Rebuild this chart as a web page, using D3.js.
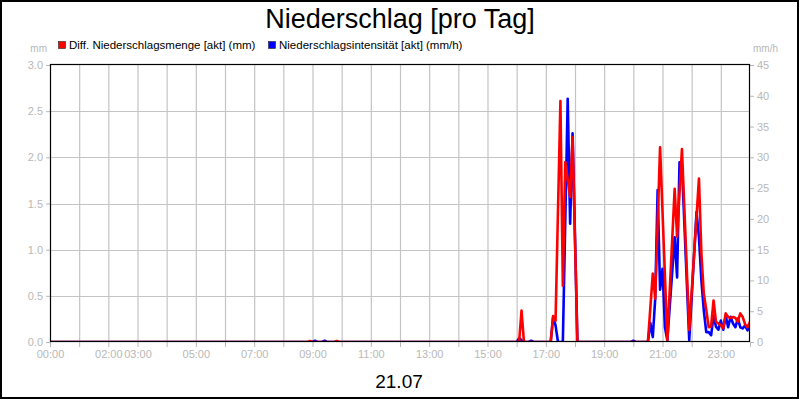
<!DOCTYPE html>
<html><head><meta charset="utf-8">
<script src="https://cdn.jsdelivr.net/npm/d3@7"></script>
<style>
body{margin:0;background:#fff}
svg{display:block}
text{font-family:"Liberation Sans",Arial,sans-serif}
</style>
</head><body><svg id="c" width="800" height="400"></svg>
<script>
const chartTitle = "Niederschlag [pro Tag]";
const dateLabel = "21.07";
const seriesNames = ["Diff. Niederschlagsmenge [akt] (mm)", "Niederschlagsintensität [akt] (mm/h)"];
const seriesColors = ["#ff0000", "#0000ff"];
const leftUnit = "mm";
const rightUnit = "mm/h";
const xTickLabels = ["00:00","02:00","03:00","05:00","07:00","09:00","11:00","13:00","15:00","17:00","19:00","21:00","23:00"];
const leftTicks = [0, 0.5, 1.0, 1.5, 2.0, 2.5, 3.0];
const rightTicks = [0, 5, 10, 15, 20, 25, 30, 35, 40, 45];

const amountTimes = ["00:00","08:50","08:55","09:00","09:45","09:50","09:55","16:05","16:10","16:15",
  "17:10","17:15","17:20","17:30","17:35","17:40","17:50","17:55","18:05",
  "20:30","20:40","20:45","20:55","21:10","21:25","21:30","21:40","21:55",
  "22:15","22:20","22:25","22:30","22:35","22:40","22:45","22:50","22:55","23:00","23:05",
  "23:10","23:15","23:20","23:25","23:30","23:35","23:40","23:45","23:50","23:55","24:00"];
const amountValues = [0,0,0.01,0,0,0.01,0,0,0.34,0,
  0,0.28,0.23,2.61,0.61,1.95,1.57,2.22,0,
  0,0.74,0.47,2.11,0.02,1.66,1.14,2.09,0.13,
  1.77,0.96,0.52,0.35,0.16,0.17,0.45,0.22,0.2,0.18,0.15,
  0.31,0.27,0.26,0.27,0.26,0.22,0.31,0.27,0.19,0.16,0.22];

const intensityTimes = ["00:00","09:00","09:05","09:10","09:20","09:25","09:30",
  "16:00","16:05","16:10","16:15","16:25","16:30","16:35",
  "17:10","17:15","17:20","17:25","17:35","17:45","17:50","17:55","18:05",
  "19:55","20:00","20:05",
  "20:30","20:35","20:40","20:45","20:50","20:55","21:00","21:05","21:10",
  "21:25","21:30","21:35","21:40","21:55",
  "22:10","22:15","22:20","22:25","22:30","22:35","22:40","22:45","22:50","22:55","23:00","23:05",
  "23:10","23:15","23:20","23:25","23:30","23:35","23:40","23:45","23:50","23:55","24:00"];
const intensityValues = [0,0,0.2,0,0,0.2,0,
  0,0.6,0.3,0,0,0.2,0,
  0,4.1,2.7,0,0,39.5,19.2,33.9,0,
  0,0.2,0,
  0,3.1,0.8,7.0,24.7,8.5,11.9,2.4,0.3,
  17,10.5,29.2,28.7,0.3,
  21.1,17,10,5.1,1.6,1.6,1.1,4.3,2.5,2.0,3.5,2.0,
  4.3,2.4,4.1,3.0,2.4,3.8,2.4,2.2,2.7,1.9,3.0];

const toMin = s => { const [h, m] = s.split(":").map(Number); return h * 60 + m; };

const svg = d3.select("#c");
const L = 50, R = 750, T = 65, B = 342;
const x = d3.scaleLinear().domain([0, 1440]).range([L, R]);
const yL = d3.scaleLinear().domain([0, 3]).range([B, T]);
const yR = d3.scaleLinear().domain([0, 45]).range([B, T]);
const gray = "#b8b8b8";
const gridC = "#c4c4c4";

svg.append("rect").attr("width", 800).attr("height", 400).attr("fill", "#fff");

// title
svg.append("text").attr("x", 400).attr("y", 28).attr("text-anchor", "middle")
  .attr("font-size", 27).attr("fill", "#000").text(chartTitle);

// legend
const legX = [58, 268];
seriesNames.forEach((n, i) => {
  svg.append("rect").attr("x", legX[i] + 0.5).attr("y", 41.5).attr("width", 7).attr("height", 7)
    .attr("fill", seriesColors[i]).attr("stroke", "#222").attr("stroke-width", 0.6);
  svg.append("text").attr("x", legX[i] + 11).attr("y", 49).attr("font-size", 11.5)
    .attr("fill", "#000").text(n);
});

// unit labels
svg.append("text").attr("x", 47).attr("y", 52).attr("text-anchor", "end")
  .attr("font-size", 10).attr("fill", gray).text(leftUnit);
svg.append("text").attr("x", 753).attr("y", 52).attr("font-size", 10).attr("fill", gray).text(rightUnit);

// grid
const hours = d3.range(0, 1441, 60);
svg.append("g").selectAll("line").data(hours.slice(1, -1)).join("line")
  .attr("x1", d => x(d) + 0.5).attr("x2", d => x(d) + 0.5).attr("y1", T).attr("y2", B)
  .attr("stroke", gridC).attr("stroke-width", 1.2);
svg.append("g").selectAll("line").data(leftTicks.slice(1, -1)).join("line")
  .attr("x1", L).attr("x2", R).attr("y1", d => Math.round(yL(d)) + 0.5).attr("y2", d => Math.round(yL(d)) + 0.5)
  .attr("stroke", gridC).attr("stroke-width", 1.2);

// axes
const styleAxis = g => {
  g.select(".domain").remove();
  g.selectAll(".tick line").attr("stroke", gray);
  g.selectAll(".tick text").attr("fill", gray).attr("font-size", 11)
    .attr("font-family", '"Liberation Sans",Arial,sans-serif');
};
svg.append("g").attr("transform", `translate(${L},0)`)
  .call(d3.axisLeft(yL).tickValues(leftTicks).tickFormat(d3.format(".1f")).tickSize(4).tickPadding(3))
  .call(styleAxis);
svg.append("g").attr("transform", `translate(${R},0)`)
  .call(d3.axisRight(yR).tickValues(rightTicks).tickFormat(d3.format("d")).tickSize(4).tickPadding(3))
  .call(styleAxis);
const labelSet = new Set(xTickLabels.map(toMin));
svg.append("g").attr("transform", `translate(0,${B})`)
  .call(d3.axisBottom(x).tickValues(hours).tickSize(5).tickPadding(3)
    .tickFormat(d => labelSet.has(d) ? d3.format("02d")(Math.floor(d / 60)) + ":00" : ""))
  .call(styleAxis);

// clip
svg.append("clipPath").attr("id", "clip").append("rect")
  .attr("x", L).attr("y", T - 2).attr("width", R - L).attr("height", B - T + 2);

const lineL = d3.line().x(d => x(d[0])).y(d => yL(d[1]));
const lineR = d3.line().x(d => x(d[0])).y(d => yR(d[1]));
const intensity = intensityTimes.map((t, i) => [toMin(t), intensityValues[i]]);
const amount = amountTimes.map((t, i) => [toMin(t), amountValues[i]]);

const plot = svg.append("g").attr("clip-path", "url(#clip)");
plot.append("path").datum(intensity).attr("d", lineR).attr("fill", "none")
  .attr("stroke", seriesColors[1]).attr("stroke-width", 2.6).attr("stroke-linejoin", "round");
plot.append("path").datum(amount).attr("d", lineL).attr("fill", "none")
  .attr("stroke", seriesColors[0]).attr("stroke-width", 2.6).attr("stroke-linejoin", "round");

// frame
svg.append("rect").attr("x", L + 0.5).attr("y", T - 0.5).attr("width", R - L - 1).attr("height", B - T)
  .attr("fill", "none").attr("stroke", "#000").attr("stroke-width", 1.2);

// date label
svg.append("text").attr("x", 399).attr("y", 388).attr("text-anchor", "middle")
  .attr("font-size", 19).attr("fill", "#000").text(dateLabel);

// outer border
svg.append("rect").attr("x", 1).attr("y", 1).attr("width", 797).attr("height", 397)
  .attr("fill", "none").attr("stroke", "#000").attr("stroke-width", 2);
</script>
</body></html>
